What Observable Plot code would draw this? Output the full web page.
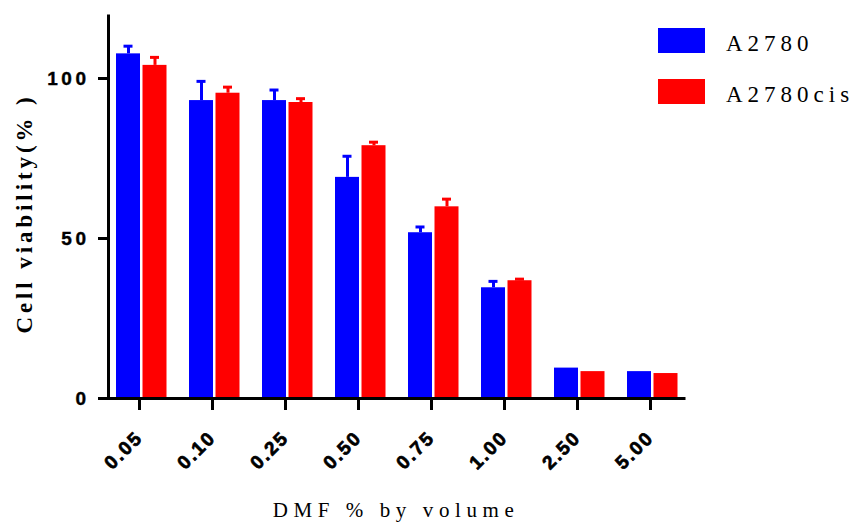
<!DOCTYPE html>
<html>
<head>
<meta charset="utf-8">
<script src="https://cdn.jsdelivr.net/npm/d3@7"></script>
<script src="https://cdn.jsdelivr.net/npm/@observablehq/plot@0.6"></script>
<style>
  html, body { margin: 0; padding: 0; background: #fff; }
  #wrap { position: relative; width: 854px; height: 523px; }
  g[aria-label="y-axis tick label"] text { letter-spacing: 3.5px; stroke: #000; stroke-width: 0.4px; }
  g[aria-label="x-axis tick label"] text { letter-spacing: 2px; stroke: #000; stroke-width: 0.7px; }
  .legend { position: absolute; left: 658px; top: 28px; font-family: "Liberation Serif", "Times New Roman", serif; font-size: 23px; letter-spacing: 5px; color: #000; }
  .legend .row { position: absolute; left: 0; width: 200px; height: 26px; }
  .legend .sw { position: absolute; left: 0; top: 0; width: 47px; height: 25px; }
  .legend .lb { position: absolute; left: 68px; top: 3px; line-height: 26px; white-space: nowrap; }
</style>
</head>
<body>
<div id="wrap"></div>
<script>
const doses = ["0.05", "0.10", "0.25", "0.50", "0.75", "1.00", "2.50", "5.00"];
const seriesNames = ["A2780", "A2780cis"];
const seriesColors = ["#0000FF", "#FF0000"];
const a2780 = [107.7, 93.1, 93.1, 69.1, 51.8, 34.6, 9.5, 8.4];
const a2780Err = [2.4, 6.0, 3.3, 6.6, 1.8, 2.0, 0, 0];
const a2780cis = [104.1, 95.4, 92.5, 79.0, 59.9, 36.8, 8.4, 7.8];
const a2780cisErr = [2.5, 1.9, 1.2, 1.1, 2.4, 0.5, 0, 0];
const yTicks = [0, 50, 100];
const xTitle = "DMF % by volume";
const yTitle = "Cell viability(% )";

const W = 854, H = 523, mL = 108, mR = 169, mT = 14, mB = 125;
const fw = W - mL - mR, fh = H - mT - mB;

const blue = doses.map((d, i) => ({dose: d, v: a2780[i], e: a2780Err[i]}));
const red = doses.map((d, i) => ({dose: d, v: a2780cis[i], e: a2780cisErr[i]}));
const blueE = blue.filter(d => d.e > 0);
const redE = red.filter(d => d.e > 0);

const plot = Plot.plot({
  width: W, height: H,
  marginLeft: mL, marginRight: mR, marginTop: mT, marginBottom: mB,
  style: {fontFamily: "'Liberation Sans', Arial, sans-serif", color: "#000", background: "#fff"},
  x: {domain: doses, paddingInner: 0.29, paddingOuter: 0.08, axis: null},
  y: {domain: [0, 120], axis: null},
  marks: [
    Plot.barY(blue, {x: "dose", y: "v", fill: seriesColors[0], insetLeft: 1, insetRight: 27}),
    Plot.barY(red, {x: "dose", y: "v", fill: seriesColors[1], insetLeft: 27.5, insetRight: 0.5}),
    Plot.ruleX(blueE, {x: "dose", y1: "v", y2: d => d.v + d.e, dx: -13, stroke: seriesColors[0], strokeWidth: 3}),
    Plot.tickY(blueE, {x: "dose", y: d => d.v + d.e, dx: -13, insetLeft: 21.5, insetRight: 21.5, stroke: seriesColors[0], strokeWidth: 3}),
    Plot.ruleX(redE, {x: "dose", y1: "v", y2: d => d.v + d.e, dx: 13.5, stroke: seriesColors[1], strokeWidth: 3}),
    Plot.tickY(redE, {x: "dose", y: d => d.v + d.e, dx: 13.5, insetLeft: 21.5, insetRight: 21.5, stroke: seriesColors[1], strokeWidth: 3}),
    Plot.frame({stroke: "#000", strokeWidth: 3, strokeDasharray: `0 ${fw + fh} ${fw + fh}`}),
    Plot.axisY({ticks: yTicks, tickSize: 10, tickPadding: 9, strokeWidth: 3, fontSize: 19, fontWeight: "bold", label: null}),
    Plot.axisX({tickSize: 12, tickPadding: 24, dx: -2, strokeWidth: 3, tickRotate: -45, fontSize: 19, fontWeight: "bold", label: null}),
    Plot.text([yTitle], {text: d => d, frameAnchor: "left", textAnchor: "middle", lineAnchor: "middle", dx: -84, dy: 7, rotate: -90, fontSize: 23, fontWeight: "bold", fontFamily: "'Liberation Serif', 'Times New Roman', serif"}),
    Plot.text([xTitle], {text: d => d, frameAnchor: "bottom", textAnchor: "middle", dx: -1, dy: 118, fontSize: 21, fontFamily: "'Liberation Serif', 'Times New Roman', serif"})
  ]
});

const wrap = document.getElementById("wrap");
wrap.appendChild(plot);

// letter spacing for the axis titles
d3.select(plot).selectAll("text").each(function() {
  const t = this.textContent;
  if (t === yTitle) this.style.letterSpacing = "3.9px";
  if (t === xTitle) this.style.letterSpacing = "5.6px";
});

const legend = document.createElement("div");
legend.className = "legend";
seriesNames.forEach((name, i) => {
  const row = document.createElement("div");
  row.className = "row";
  row.style.top = (i * 51) + "px";
  const sw = document.createElement("div");
  sw.className = "sw";
  sw.style.background = seriesColors[i];
  const lb = document.createElement("div");
  lb.className = "lb";
  lb.textContent = name;
  row.appendChild(sw);
  row.appendChild(lb);
  legend.appendChild(row);
});
wrap.appendChild(legend);
</script>
</body>
</html>
